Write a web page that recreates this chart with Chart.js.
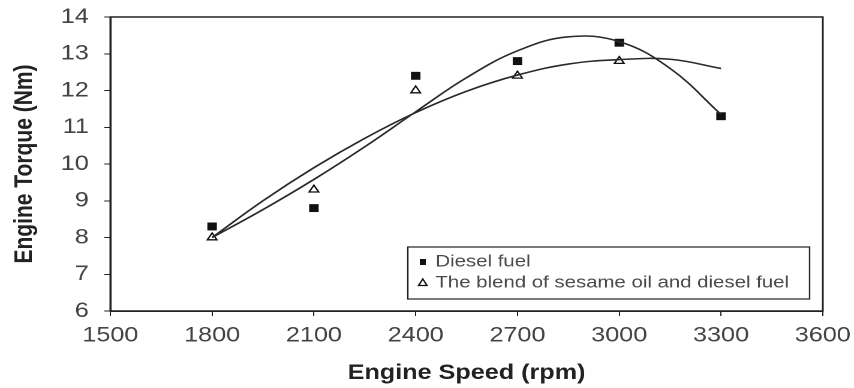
<!DOCTYPE html>
<html>
<head>
    <title>Engine torque</title>
    <style>
        body { margin: 0; background: #fff; }
        #wrap { width: 712px; height: 388px; transform: scaleX(1.1994); transform-origin: 0 0; }
    </style>
</head>
<body>
    <div id="wrap"><canvas id="chart" width="712" height="388"></canvas></div>
    <script src="https://cdn.jsdelivr.net/npm/chart.js@4.4.0/dist/chart.umd.min.js"></script>
    <script>

// measured points
var rpm = [1800, 2100, 2400, 2700, 3000, 3300];
var diesel = [8.3, 8.8, 12.4, 12.8, 13.3, 11.3];
var blendRpm = [1800, 2100, 2400, 2700, 3000];
var blend = [8.0, 9.3, 12.0, 12.4, 12.8];

// trend curves
var trendRpm = [1800, 1950, 2100, 2250, 2400, 2550, 2700, 2850, 3000, 3150, 3300];
var dieselTrend = [8.0, 8.76, 9.58, 10.47, 11.42, 12.35, 13.08, 13.46, 13.33, 12.6, 11.35];
var blendTrend = [8.0, 9.0, 9.9, 10.7, 11.4, 11.98, 12.42, 12.72, 12.84, 12.85, 12.6];

var xTicks = [1500, 1800, 2100, 2400, 2700, 3000, 3300, 3600];
var legendLabels = ["Diesel fuel", "The blend of sesame oil and diesel fuel"];

var fontFamily = 'Arial, "Liberation Sans", sans-serif';

function pairs(xs, ys) {
    return xs.map(function(x, i) { return {x: x, y: ys[i]} });
}

// keep the plot box fixed, labels may hang over the padding
function noOverhang(scale) {
    scale.paddingTop = 0;
    scale.paddingBottom = 0;
    scale.paddingLeft = 0;
    scale.paddingRight = 0;
}

// box round the plot area and the legend inside it
var framePlugin = {
    id: 'frame',
    afterDraw: function(chart) {
        let ctx = chart.ctx;
        let a = chart.chartArea;
        ctx.save();
        ctx.strokeStyle = '#222';
        ctx.lineWidth = 1.5;
        ctx.strokeRect(a.left, a.top, a.right - a.left, a.bottom - a.top);

        // legend box
        let bx = 340, by = 247, bw = 335, bh = 52;
        ctx.fillStyle = '#fff';
        ctx.fillRect(bx, by, bw, bh);
        ctx.lineWidth = 1.2;
        ctx.strokeRect(bx, by, bw, bh);

        ctx.font = '17px ' + fontFamily;
        ctx.textBaseline = 'middle';
        let rows = [by + 15, by + 36];
        // square
        ctx.fillStyle = '#111';
        ctx.fillRect(350, rows[0] - 3, 5, 6);
        // triangle
        ctx.beginPath();
        ctx.moveTo(352.5, rows[1] - 4);
        ctx.lineTo(356, rows[1] + 2.5);
        ctx.lineTo(349, rows[1] + 2.5);
        ctx.closePath();
        ctx.strokeStyle = '#111';
        ctx.lineWidth = 1.3;
        ctx.stroke();

        ctx.fillStyle = '#4a4a4a';
        ctx.fillText(legendLabels[0], 363, rows[0]);
        ctx.fillText(legendLabels[1], 363, rows[1]);
        ctx.restore();
    }
};

var ctx = document.getElementById('chart').getContext('2d');
var chart = new Chart(ctx, {
    type: 'scatter',
    data: {
        datasets: [
            {
                label: 'Diesel trend',
                data: pairs(trendRpm, dieselTrend),
                showLine: true,
                borderColor: '#2a2a2a',
                borderWidth: 1.6,
                pointRadius: 0,
                tension: 0.4
            },
            {
                label: 'Blend trend',
                data: pairs(trendRpm, blendTrend),
                showLine: true,
                borderColor: '#2a2a2a',
                borderWidth: 1.6,
                pointRadius: 0,
                tension: 0.4
            },
            {
                label: legendLabels[0],
                data: pairs(rpm, diesel),
                pointStyle: 'rect',
                pointRadius: 5.6,
                backgroundColor: '#111',
                borderColor: '#111',
                borderWidth: 0
            },
            {
                label: legendLabels[1],
                data: pairs(blendRpm, blend),
                pointStyle: 'triangle',
                pointRadius: 4.6,
                backgroundColor: '#fff',
                borderColor: '#111',
                borderWidth: 1.3
            }
        ]
    },
    options: {
        responsive: false,
        animation: false,
        devicePixelRatio: 2,
        layout: { padding: { top: 17, right: 26, left: 0, bottom: 0 } },
        plugins: {
            legend: { display: false },
            tooltip: { enabled: false }
        },
        scales: {
            x: {
                type: 'linear',
                min: 1500,
                max: 3600,
                afterFit: function(scale) { scale.height = 77; noOverhang(scale) },
                afterBuildTicks: function(scale) { scale.ticks = xTicks.map(function(v) { return {value: v} }) },
                grid: { drawOnChartArea: false, drawTicks: true, tickLength: 5, color: '#222' },
                border: { color: '#222', width: 1.5 },
                ticks: {
                    color: '#444',
                    padding: 7,
                    font: { family: fontFamily, size: 21 },
                    callback: function(v) { return String(v) }
                },
                title: {
                    display: true,
                    text: 'Engine Speed (rpm)',
                    color: '#222',
                    padding: { top: 2, bottom: 2 },
                    font: { family: fontFamily, size: 21, weight: 'bold' }
                }
            },
            y: {
                min: 6,
                max: 14,
                afterFit: function(scale) { scale.width = 92; noOverhang(scale) },
                grid: { drawOnChartArea: false, drawTicks: true, tickLength: 5, color: '#222' },
                border: { color: '#222', width: 1.5 },
                ticks: {
                    stepSize: 1,
                    color: '#444',
                    padding: 13,
                    font: { family: fontFamily, size: 21 },
                    callback: function(v) { return String(v) }
                },
                title: {
                    display: true,
                    text: 'Engine Torque (Nm)',
                    color: '#222',
                    padding: { top: 8, bottom: 8 },
                    font: { family: fontFamily, size: 21, weight: 'bold' }
                }
            }
        }
    },
    plugins: [framePlugin]
});

    </script>
</body>
</html>
